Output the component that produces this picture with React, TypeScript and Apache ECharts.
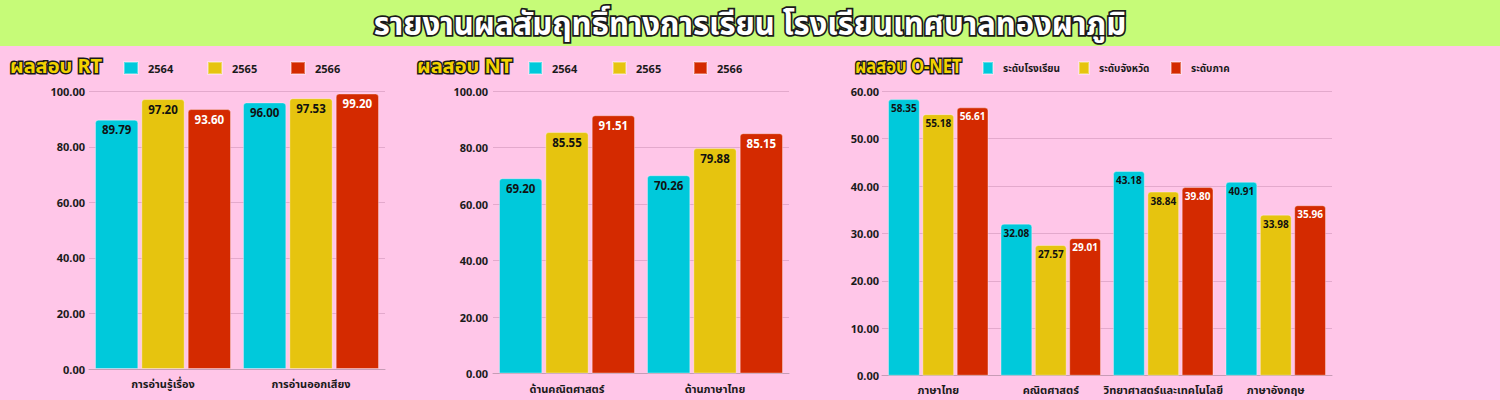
import React, { useEffect, useRef } from "react";
import * as echarts from "echarts";

const rtCategories = ["การอ่านรู้เรื่อง", "การอ่านออกเสียง"];
const rt2564 = [89.79, 96.0];
const rt2565 = [97.2, 97.53];
const rt2566 = [93.6, 99.2];

const ntCategories = ["ด้านคณิตศาสตร์", "ด้านภาษาไทย"];
const nt2564 = [69.2, 70.26];
const nt2565 = [85.55, 79.88];
const nt2566 = [91.51, 85.15];

const onetCategories = ["ภาษาไทย", "คณิตศาสตร์", "วิทยาศาสตร์และเทคโนโลยี", "ภาษาอังกฤษ"];
const onetSchool = [58.35, 32.08, 43.18, 40.91];
const onetProvince = [55.18, 27.57, 38.84, 33.98];
const onetRegion = [56.61, 29.01, 39.8, 35.96];

const yearNames = ["2564", "2565", "2566"];
const ntNames = ["2564 ", "2565 ", "2566 "];
const onetNames = ["ระดับโรงเรียน", "ระดับจังหวัด", "ระดับภาค"];

const COLORS = ["#00c9db", "#e6c40f", "#d42a00"];
const FONT = "'Noto Sans', 'Noto Sans Thai', Roboto, sans-serif";

export default function App() {
  const ref = useRef<HTMLDivElement>(null);
  useEffect(() => {
    document.body.style.margin = "0";
    const chart = echarts.init(ref.current!, null, { renderer: "svg" });

    const grids = [
      { left: 89, top: 91.3, width: 296, height: 277.7 },
      { left: 493, top: 91.3, width: 296, height: 282.2 },
      { left: 882, top: 91.3, width: 450, height: 284.4 },
    ];
    const yMax = [100, 100, 60];
    const yInt = [20, 20, 10];
    const yMargin = [4, 5, 3];
    const cats = [rtCategories, ntCategories, onetCategories];
    const xMargin = [9, 9, 8];

    const xAxis = cats.map((c, i) => ({
      type: "category",
      gridIndex: i,
      data: c,
      axisTick: { show: false },
      axisLine: { lineStyle: { color: "#c79cb6", width: 1 } },
      axisLabel: {
        interval: 0,
        color: "#1a1a1a",
        fontSize: 11,
        fontWeight: "bold",
        fontFamily: FONT,
        margin: xMargin[i],
      },
    }));
    const yAxis = yMax.map((m, i) => ({
      type: "value",
      gridIndex: i,
      min: 0,
      max: m,
      interval: yInt[i],
      axisLine: { show: false },
      axisTick: { show: false },
      splitLine: { lineStyle: { color: "#e3a9cc", width: 1 } },
      axisLabel: {
        color: "#1a1a1a",
        fontSize: 11,
        fontWeight: "bold",
        fontFamily: FONT,
        margin: yMargin[i],
        formatter: (v: number) => v.toFixed(2),
      },
    }));

    const mkSeries = (
      names: string[],
      datas: number[][],
      gi: number,
      catGap: string,
      barGap: string,
      labelSize: number
    ) =>
      datas.map((d, k) => ({
        type: "bar",
        name: names[k],
        xAxisIndex: gi,
        yAxisIndex: gi,
        data: d,
        barCategoryGap: catGap,
        barGap: barGap,
        itemStyle: {
          color: COLORS[k],
          borderRadius: [3, 3, 0, 0],
          borderColor: "rgba(255,255,255,0.35)",
          borderWidth: 1,
        },
        label: {
          show: true,
          position: "insideTop",
          distance: 4,
          color: k === 2 ? "#ffffff" : "#111111",
          fontSize: labelSize,
          fontWeight: "bold",
          fontFamily: FONT,
          formatter: (p: any) => Number(p.value).toFixed(2),
        },
      }));

    const series = [
      ...mkSeries(yearNames, [rt2564, rt2565, rt2566], 0, "8.1%", "7%", 11.5),
      ...mkSeries(ntNames, [nt2564, nt2565, nt2566], 1, "8.1%", "7%", 11.5),
      ...mkSeries(onetNames, [onetSchool, onetProvince, onetRegion], 2, "10.7%", "8%", 10),
    ];

    const legendItem = (name: string, left: number, iconW: number, fs: number) => ({
      orient: "horizontal",
      left,
      top: 61,
      padding: 0,
      itemWidth: iconW,
      itemHeight: 12,
      icon: "rect",
      data: [name],
      textStyle: {
        color: "#1a1a1a",
        fontSize: fs,
        fontWeight: "bold",
        fontFamily: FONT,
        padding: [0, 0, 0, 5],
      },
    });

    const legend = [
      legendItem(yearNames[0], 123, 14, 11),
      legendItem(yearNames[1], 207, 14, 11),
      legendItem(yearNames[2], 290, 14, 11),
      legendItem(ntNames[0], 528, 13, 11),
      legendItem(ntNames[1], 612, 13, 11),
      legendItem(ntNames[2], 693, 13, 11),
      legendItem(onetNames[0], 982, 10, 10),
      legendItem(onetNames[1], 1078, 10, 10),
      legendItem(onetNames[2], 1170, 10, 10),
    ];

    const sectionTitle = (text: string, x: number, sx: number) => ({
      type: "text",
      x,
      y: 55,
      scaleX: sx,
      z: 10,
      style: {
        text,
        fill: "#f2d200",
        stroke: "#1a1a1a",
        lineWidth: 3,
        font: `bold 20px ${FONT}`,
      },
    });

    chart.setOption({
      animation: false,
      backgroundColor: "#ffc6e8",
      grid: grids,
      xAxis,
      yAxis,
      legend,
      series,
      graphic: [
        {
          type: "rect",
          shape: { x: 0, y: 0, width: 1500, height: 46 },
          style: { fill: "#c6fb78" },
          z: 0,
        },
        {
          type: "text",
          x: 750,
          y: 23,
          z: 10,
          style: {
            text: "รายงานผลสัมฤทธิ์ทางการเรียน โรงเรียนเทศบาลทองผาภูมิ",
            fill: "#ffffff",
            stroke: "#1a1a1a",
            lineWidth: 3.5,
            font: `bold 31px ${FONT}`,
            align: "center",
            verticalAlign: "middle",
          },
        },
        sectionTitle("ผลสอบ RT", 10, 1),
        sectionTitle("ผลสอบ NT", 417, 1),
        sectionTitle("ผลสอบ O-NET", 855, 0.83),
      ],
    });
    return () => chart.dispose();
  }, []);
  return (
    <div
      ref={ref}
      style={{ position: "fixed", left: 0, top: 0, width: 1500, height: 400 }}
    />
  );
}
